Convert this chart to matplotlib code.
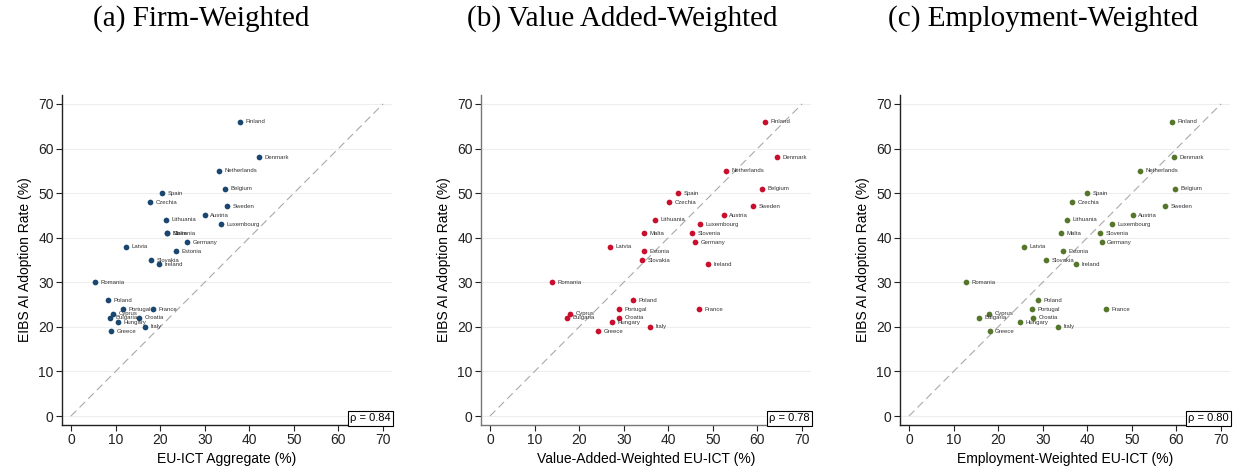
import numpy as np
import matplotlib.pyplot as plt

plt.rcParams['font.family'] = ['Liberation Sans', 'DejaVu Sans']

countries = ['Finland', 'Denmark', 'Netherlands', 'Belgium', 'Spain', 'Czechia',
             'Sweden', 'Austria', 'Lithuania', 'Luxembourg', 'Malta', 'Slovenia',
             'Germany', 'Latvia', 'Estonia', 'Slovakia', 'Ireland', 'Romania',
             'Poland', 'Portugal', 'France', 'Cyprus', 'Bulgaria', 'Croatia',
             'Hungary', 'Italy', 'Greece']

# EIBS AI adoption rate (%)
adoption = [66, 58, 55, 51, 50, 48, 47, 45, 44, 43, 41, 41, 39, 38, 37, 35, 34,
            30, 26, 24, 24, 23, 22, 22, 21, 20, 19]

# EU-ICT measures (%)
ict_firm = [37.9, 42.1, 33.3, 34.6, 20.4, 17.7, 35.1, 30.0, 21.4, 33.6, 21.6, 21.6,
            26.0, 12.3, 23.5, 18.0, 19.7, 5.3, 8.4, 11.6, 18.3, 9.4, 8.7, 15.3,
            10.5, 16.6, 9.0]
ict_va = [61.7, 64.3, 52.9, 61.1, 42.1, 40.1, 59.0, 52.4, 37.1, 47.2, 34.5, 45.4,
          46.0, 26.9, 34.5, 34.1, 48.9, 13.9, 32.1, 29.0, 46.9, 18.0, 17.3, 28.9,
          27.3, 35.9, 24.3]
ict_emp = [58.9, 59.5, 51.9, 59.6, 40.0, 36.6, 57.5, 50.2, 35.5, 45.5, 34.0, 42.9,
           43.2, 25.8, 34.6, 30.8, 37.4, 12.8, 29.0, 27.5, 44.2, 18.0, 15.8, 27.8,
           25.0, 33.5, 18.1]

titles = ['(a) Firm-Weighted', '(b) Value Added-Weighted', '(c) Employment-Weighted']
xlabels = ['EU-ICT Aggregate (%)', 'Value-Added-Weighted EU-ICT (%)',
           'Employment-Weighted EU-ICT (%)']
rhos = ['0.84', '0.78', '0.80']
colors = ['#1a476f', '#c8102e', '#56772b']
spine_colors = ['#222222', '#777777', '#222222']
xs = [ict_firm, ict_va, ict_emp]

fig = plt.figure(figsize=(12.42, 4.72), dpi=100)
W, H = 1242, 472
lefts = [62, 481, 900]
title_cx = [201, 622, 1043]

for i in range(3):
    ax = fig.add_axes([lefts[i] / W, (H - 425) / H, 330 / W, 330 / H])
    ax.set_xlim(-2, 72)
    ax.set_ylim(-2, 72)
    ticks = np.arange(0, 71, 10)
    ax.set_xticks(ticks)
    ax.set_yticks(ticks)
    ax.tick_params(labelsize=10, length=4, width=0.8, colors='#222222', pad=2)
    for t in ticks:
        ax.axhline(t, color='#eeeeee', lw=0.8, zorder=0)
    ax.plot([0, 70], [0, 70], color='#aaaaaa', lw=0.8, dashes=(7, 4), zorder=1)
    for s in ['top', 'right']:
        ax.spines[s].set_visible(False)
    for s in ['left', 'bottom']:
        ax.spines[s].set_color(spine_colors[i])
        ax.spines[s].set_linewidth(1.0)

    ax.scatter(xs[i], adoption, s=17, color=colors[i], zorder=3, linewidths=0)
    for name, x, y in zip(countries, xs[i], adoption):
        ax.annotate(name, (x, y), xytext=(4, 0), textcoords='offset points',
                    fontsize=4.3, color='#333333', va='center', ha='left')

    ax.set_xlabel(xlabels[i], fontsize=10, labelpad=3)
    ax.set_ylabel('EIBS AI Adoption Rate (%)', fontsize=10, labelpad=4)
    ax.text(0.995, 0.005, '\u03c1 = ' + rhos[i], transform=ax.transAxes,
            fontsize=8, ha='right', va='bottom',
            bbox=dict(boxstyle='square,pad=0.2', fc='white', ec='black', lw=0.8))

    fig.text(title_cx[i] / W, 1 - 19 / H, titles[i], fontsize=21, ha='center',
             va='center', family='Liberation Serif')

fig.savefig('out.png', dpi=100)
